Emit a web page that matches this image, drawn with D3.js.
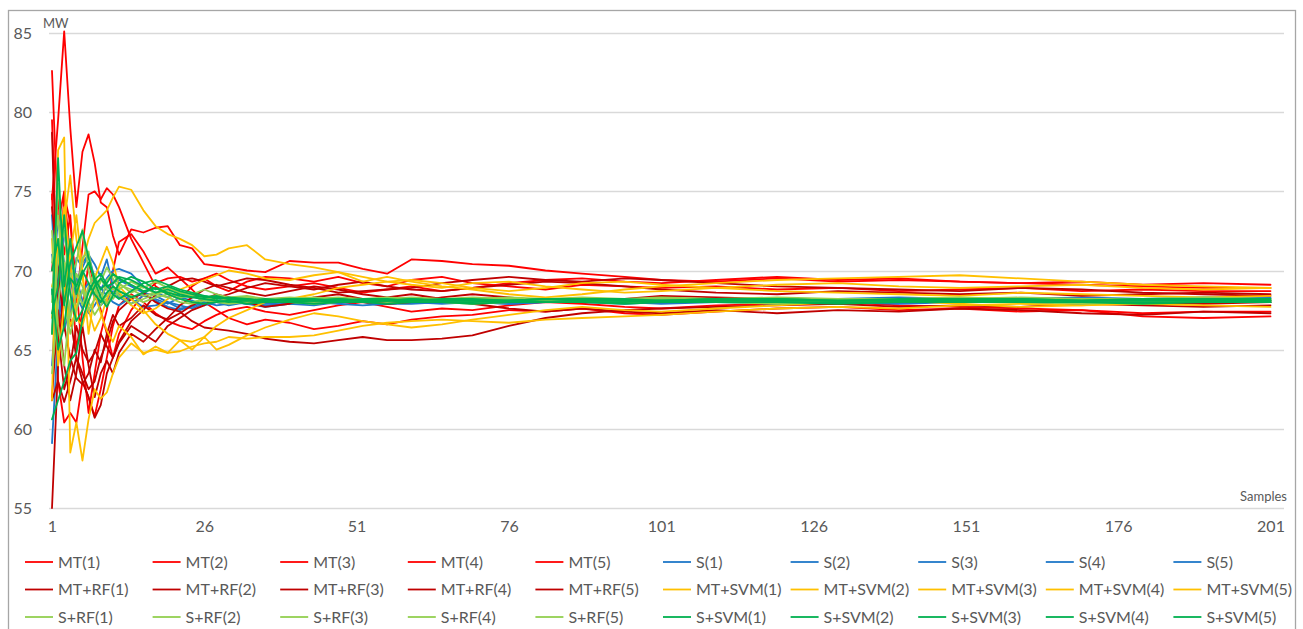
<!DOCTYPE html>
<html><head><meta charset="utf-8">
<script src="https://cdn.jsdelivr.net/npm/d3@7"></script>
<style>body{margin:0;background:#fff}svg{display:block}</style>
</head><body>
<svg id="c" width="1303" height="629"></svg>
<script>
const SAMPLES = [1,2,3,4,5,6,7,8,9,10,11,12,
  14,16,18,20,22,24,26,28,30,
  33,36,40,44,48,52,56,60,
  65,70,76,82,88,95,101,
  110,120,130,140,150,160,170,180,190,
  201];
const Y_TICKS = [55,60,65,70,75,80,85];
const X_TICKS = [1,26,51,76,101,126,151,176,201];

const MT1 = [74.5,79.5,85.1,79.0,74.0,77.5,78.6,76.8,74.3,74.0,72.2,71.0,
  72.6,72.4,72.7,72.8,71.6,71.4,70.4,70.3,70.2,
  70.0,69.9,70.6,70.5,70.5,70.1,69.8,70.7,
  70.6,70.4,70.3,70.0,69.8,69.6,69.4,
  69.3,69.5,69.3,69.4,69.3,69.2,69.3,69.1,69.2,
  69.1];
const MT2 = [82.6,73.0,75.0,70.8,65.0,67.5,70.5,69.0,67.5,66.0,64.5,66.0,
  67.5,68.5,69.2,69.5,69.6,69.3,69.5,69.0,68.7,
  69.3,69.6,69.5,69.3,69.6,69.2,69.0,69.4,
  69.6,69.2,69.0,68.8,69.1,69.0,68.9,
  69.0,68.8,68.9,68.7,68.8,68.9,68.7,68.8,68.7,
  68.7];
const MT3 = [79.5,68.0,74.8,73.0,69.0,64.5,61.0,63.5,66.0,67.5,70.0,71.8,
  72.3,71.2,69.8,70.2,69.5,68.8,68.0,67.5,67.0,
  66.6,66.9,66.7,66.3,66.5,66.8,66.6,66.9,
  67.1,67.2,67.5,67.4,67.6,67.3,67.2,
  67.4,67.6,67.7,67.5,67.6,67.4,67.5,67.1,67.0,
  67.1];
const MT4 = [74.8,63.0,60.4,61.0,60.4,63.0,62.0,60.8,62.5,64.5,66.5,67.8,
  68.5,68.0,67.3,66.8,66.5,66.3,66.8,67.2,67.5,
  67.7,67.4,67.2,67.5,67.8,68.0,67.7,67.4,
  67.6,67.5,67.8,68.0,67.9,67.7,67.6,
  67.8,67.9,68.0,67.8,67.7,67.6,67.5,67.3,67.4,
  67.4];
const MT5 = [70.0,74.5,71.0,73.5,68.0,71.5,74.8,75.0,74.5,75.2,74.8,74.0,
  72.0,70.5,69.0,68.5,68.2,69.0,69.5,69.8,69.4,
  69.0,68.8,69.0,69.2,68.9,68.6,68.8,69.0,
  68.7,68.9,69.2,69.4,69.5,69.3,69.2,
  69.4,69.6,69.4,69.5,69.3,69.2,69.1,69.0,68.9,
  68.9];

const S1 = [59.1,66.0,73.5,71.0,69.0,70.5,71.0,69.5,68.8,69.5,70.0,70.1,
  69.8,69.0,68.6,68.3,68.5,68.4,68.1,68.3,68.0,
  67.9,68.1,68.2,68.0,68.1,68.2,68.1,68.0,
  68.1,68.2,68.1,68.2,68.1,68.2,68.2,
  68.1,68.2,68.2,68.3,68.2,68.2,68.3,68.2,68.3,
  68.3];
const S2 = [68.5,73.3,70.5,67.0,70.8,70.2,71.0,70.4,69.6,70.7,69.0,68.5,
  68.2,67.7,67.8,68.0,67.6,67.7,68.0,67.8,67.9,
  68.0,67.8,67.9,68.0,67.9,67.8,67.9,68.0,
  67.9,68.0,67.9,68.0,68.0,67.9,68.0,
  68.0,67.9,68.0,68.0,68.1,68.0,68.0,68.1,68.0,
  68.0];
const S3 = [73.5,66.5,68.0,69.8,67.5,68.7,69.2,68.3,67.8,68.2,68.7,68.3,
  67.9,68.4,68.2,67.9,68.3,68.1,67.8,68.0,68.2,
  68.1,67.9,68.0,68.2,68.1,68.0,68.1,68.1,
  68.0,68.1,68.1,68.0,68.1,68.1,68.1,
  68.0,68.1,68.1,68.1,68.0,68.1,68.1,68.1,68.1,
  68.1];
const S4 = [64.0,70.0,72.5,69.3,68.4,67.6,68.8,69.3,68.9,68.4,68.0,67.8,
  68.3,68.5,68.1,67.7,67.5,67.8,68.2,68.0,67.8,
  68.0,68.1,67.9,67.8,68.0,68.1,67.9,67.9,
  68.0,68.0,67.9,68.0,68.0,68.0,67.9,
  68.0,68.0,68.0,67.9,68.0,68.0,67.9,68.0,68.0,
  68.0];
const S5 = [71.0,68.5,66.2,67.8,69.5,68.1,67.3,67.8,68.5,68.9,69.2,69.4,
  69.0,68.6,68.4,68.0,67.8,67.6,67.9,68.3,68.1,
  67.9,67.7,67.9,68.1,68.2,68.0,67.9,68.0,
  68.1,68.2,68.1,68.0,68.1,68.2,68.1,
  68.1,68.2,68.1,68.1,68.2,68.1,68.1,68.2,68.1,
  68.2];

const MTRF1 = [55.0,64.0,69.5,67.0,64.5,63.5,62.5,63.0,64.5,65.5,66.8,67.5,
  68.2,68.6,68.0,67.6,67.4,66.8,66.4,66.3,66.2,
  66.0,65.7,65.5,65.4,65.6,65.8,65.6,65.6,
  65.7,65.9,66.5,67.0,67.3,67.5,67.6,
  67.7,67.8,67.9,67.7,67.8,67.7,67.9,67.8,67.7,
  67.8];
const MTRF2 = [61.8,63.0,61.7,63.0,64.5,63.0,62.0,60.7,61.5,63.5,64.5,65.4,
  66.5,66.0,65.5,66.5,67.0,67.5,67.8,68.3,68.5,
  68.9,69.2,69.0,68.8,69.1,69.3,69.0,68.8,
  68.7,68.9,69.1,69.3,69.2,69.0,68.8,
  68.6,68.5,68.7,68.6,68.5,68.6,68.4,68.5,68.6,
  68.5];
const MTRF3 = [78.7,66.0,62.5,64.0,66.5,65.0,64.2,64.8,66.0,65.2,64.5,65.5,
  66.8,67.5,68.5,69.0,69.4,69.5,69.3,69.0,69.2,
  69.5,69.4,69.1,68.9,68.6,68.7,68.8,68.9,
  69.2,69.4,69.6,69.4,69.3,69.5,69.4,
  69.2,69.0,68.9,68.8,68.7,68.9,68.8,68.6,68.5,
  68.4];
const MTRF4 = [74.0,70.0,66.5,64.5,63.2,62.8,63.5,65.0,64.2,66.0,67.2,66.5,
  67.0,67.8,67.2,66.9,67.3,67.8,68.2,68.5,68.3,
  68.0,67.7,67.9,68.3,68.5,68.2,67.9,68.0,
  68.3,68.5,68.3,68.1,68.0,68.2,68.4,
  68.3,68.2,68.0,68.1,68.2,68.0,67.9,68.0,67.9,
  68.0];
const MTRF5 = [62.0,67.5,64.0,61.8,63.5,66.5,64.0,62.0,63.5,64.3,63.5,64.8,
  66.0,65.5,66.3,67.0,67.8,68.3,68.8,69.1,68.9,
  68.6,68.4,68.7,69.0,68.8,68.5,68.3,68.5,
  68.2,67.9,67.6,67.4,67.6,67.4,67.3,
  67.5,67.3,67.5,67.4,67.6,67.5,67.3,67.2,67.4,
  67.3];

const MTSVM1 = [67.0,72.0,69.0,66.5,67.5,70.5,72.0,73.0,73.4,73.8,74.6,75.3,
  75.1,73.8,72.8,72.3,72.0,71.6,70.9,71.0,71.4,
  71.6,70.7,70.4,70.2,69.9,69.3,69.6,69.3,
  69.0,68.8,68.5,68.3,68.5,68.8,69.0,
  69.2,69.4,69.5,69.6,69.7,69.5,69.3,69.1,69.0,
  68.9];
const MTSVM2 = [66.0,71.0,74.0,70.5,67.0,66.5,68.0,69.5,70.5,71.5,70.5,69.0,
  68.2,67.5,66.6,66.0,65.6,65.5,65.8,66.5,67.0,
  67.5,68.0,68.2,68.5,68.9,69.1,69.3,69.4,
  69.2,68.9,68.7,68.9,69.2,69.3,69.1,
  68.9,68.7,68.6,68.5,68.4,68.6,68.5,68.4,68.3,
  68.4];
const MTSVM3 = [61.8,77.6,78.4,58.5,60.4,58.0,60.6,62.5,61.9,62.3,63.5,64.5,
  65.4,64.8,65.0,64.8,64.9,65.2,65.4,65.5,65.8,
  65.7,65.8,65.8,65.9,66.2,66.5,66.7,66.8,
  66.9,66.8,66.7,66.9,67.0,67.1,67.2,
  67.4,67.6,67.7,67.6,67.8,67.9,67.8,68.0,68.1,
  68.1];
const MTSVM4 = [72.0,64.0,68.0,71.0,73.5,70.0,66.0,68.5,67.3,66.2,65.5,66.5,
  65.8,64.7,65.2,64.8,65.6,65.0,65.8,65.0,65.3,
  65.9,66.4,66.9,67.3,67.1,66.8,66.6,66.4,
  66.6,66.9,67.2,67.5,67.7,67.5,67.4,
  67.6,67.8,68.0,68.1,67.9,67.7,67.8,67.9,67.8,
  67.7];
const MTSVM5 = [69.0,70.5,73.0,76.0,72.0,69.5,67.5,66.2,67.0,68.2,69.0,68.6,
  67.8,67.3,67.6,68.2,68.8,69.1,69.4,69.7,70.0,
  69.8,69.5,69.4,69.7,69.9,69.6,69.3,69.1,
  68.9,69.2,69.3,69.0,68.8,68.6,68.7,
  68.9,69.1,69.2,69.0,68.9,69.0,69.1,68.9,68.8,
  68.9];

const SRF1 = [66.0,71.0,72.5,69.5,70.5,72.6,70.0,68.5,69.3,70.2,69.5,68.8,
  69.3,68.9,69.3,68.9,68.6,68.5,68.8,68.5,68.3,
  68.4,68.2,68.3,68.2,68.3,68.2,68.2,68.3,
  68.2,68.2,68.3,68.2,68.2,68.2,68.3,
  68.2,68.2,68.2,68.2,68.3,68.2,68.2,68.2,68.2,
  68.2];
const SRF2 = [63.5,68.0,70.5,67.0,68.5,70.8,71.2,69.0,68.0,69.4,69.8,69.2,
  68.6,69.0,68.5,68.7,68.3,68.4,68.2,68.3,68.1,
  68.2,68.1,68.2,68.1,68.1,68.2,68.1,68.1,
  68.2,68.1,68.1,68.1,68.2,68.1,68.1,
  68.1,68.2,68.1,68.1,68.1,68.1,68.2,68.1,68.1,
  68.1];
const SRF3 = [70.5,73.5,68.0,66.0,67.5,68.8,67.5,68.2,69.5,68.8,68.2,68.7,
  68.4,68.0,68.3,68.5,68.2,68.0,68.2,68.1,68.0,
  68.1,68.0,68.1,68.0,68.1,68.1,68.0,68.1,
  68.1,68.0,68.1,68.1,68.0,68.1,68.1,
  68.1,68.0,68.1,68.1,68.1,68.0,68.1,68.1,68.1,
  68.1];
const SRF4 = [68.0,75.5,70.0,71.5,69.0,67.8,69.0,69.8,68.6,67.9,68.5,69.1,
  68.8,68.4,68.6,68.9,68.6,68.4,68.3,68.4,68.2,
  68.3,68.2,68.2,68.3,68.2,68.2,68.3,68.2,
  68.2,68.3,68.2,68.2,68.3,68.2,68.2,
  68.2,68.3,68.2,68.2,68.2,68.3,68.2,68.2,68.3,
  68.2];
const SRF5 = [72.5,66.5,64.0,68.0,69.8,69.0,68.0,67.2,67.8,68.5,68.9,68.4,
  67.9,68.2,68.5,68.3,68.0,67.9,68.1,68.0,67.9,
  68.0,68.1,68.0,67.9,68.0,68.0,68.1,68.0,
  68.0,67.9,68.0,68.0,68.1,68.0,68.0,
  68.0,67.9,68.0,68.0,68.0,68.0,67.9,68.0,68.0,
  68.0];

const SSVM1 = [66.0,77.1,69.0,72.0,68.5,69.8,70.5,69.5,68.8,69.2,69.8,69.5,
  69.1,68.7,68.9,68.6,68.4,68.3,68.4,68.2,68.3,
  68.2,68.1,68.2,68.1,68.2,68.1,68.1,68.2,
  68.1,68.1,68.1,68.2,68.1,68.1,68.1,
  68.1,68.2,68.1,68.1,68.1,68.1,68.1,68.2,68.1,
  68.1];
const SSVM2 = [60.6,61.8,63.0,64.3,64.8,66.9,68.1,69.0,69.5,69.0,69.2,69.6,
  69.4,69.0,68.6,68.8,68.5,68.3,68.2,68.1,68.0,
  68.1,68.0,68.0,68.1,68.0,68.0,68.1,68.0,
  68.0,68.0,68.1,68.0,68.0,68.0,68.1,
  68.0,68.0,68.0,68.0,68.1,68.0,68.0,68.0,68.0,
  68.0];
const SSVM3 = [70.0,72.0,67.8,70.5,71.5,72.5,70.8,69.3,68.3,67.7,68.4,69.2,
  69.6,69.3,68.8,69.0,68.7,68.5,68.3,68.4,68.2,
  68.2,68.1,68.2,68.2,68.1,68.2,68.2,68.1,
  68.2,68.2,68.1,68.2,68.2,68.2,68.1,
  68.2,68.2,68.1,68.2,68.2,68.2,68.1,68.2,68.2,
  68.2];
const SSVM4 = [67.3,69.0,73.5,68.5,66.8,67.5,68.6,69.4,69.8,69.1,68.5,68.2,
  68.7,69.2,69.4,69.1,68.8,68.6,68.4,68.3,68.2,
  68.1,68.2,68.1,68.1,68.2,68.1,68.1,68.2,
  68.1,68.1,68.1,68.2,68.1,68.1,68.1,
  68.2,68.1,68.1,68.1,68.1,68.2,68.1,68.1,68.1,
  68.1];
const SSVM5 = [68.8,65.0,66.5,69.5,69.0,70.0,69.2,68.5,68.0,68.6,69.0,68.7,
  68.3,68.6,68.9,68.5,68.2,68.0,67.9,68.0,68.1,
  67.9,68.0,68.0,67.9,68.0,68.0,67.9,68.0,
  68.0,67.9,68.0,68.0,68.0,67.9,68.0,
  68.0,68.0,67.9,68.0,68.0,68.0,68.0,67.9,68.0,
  68.0];

const GROUP_NAMES = ["MT","S","MT+RF","MT+SVM","S+RF","S+SVM"];
const GROUP_COLORS = ["#FF0000","#1F78C8","#C00000","#FFC000","#92D050","#00B050"];
const GROUP_DATA = [
  [MT1,MT2,MT3,MT4,MT5],
  [S1,S2,S3,S4,S5],
  [MTRF1,MTRF2,MTRF3,MTRF4,MTRF5],
  [MTSVM1,MTSVM2,MTSVM3,MTSVM4,MTSVM5],
  [SRF1,SRF2,SRF3,SRF4,SRF5],
  [SSVM1,SSVM2,SSVM3,SSVM4,SSVM5]
];

const series = [];
GROUP_NAMES.forEach((g, gi) => {
  GROUP_DATA[gi].forEach((vals, k) => {
    series.push({name: g + "(" + (k+1) + ")", color: GROUP_COLORS[gi],
      points: vals.map((v, i) => ({s: SAMPLES[i], v}))});
  });
});

const svg = d3.select("#c");
const FONT = "Lato, 'Open Sans', sans-serif";
const TXT = "#595959";

svg.append("rect").attr("width",1303).attr("height",629).attr("fill","#fff");
// outer chart border
svg.append("rect").attr("x",8.5).attr("y",10.5).attr("width",1287).attr("height",640)
  .attr("fill","none").attr("stroke","#a6a6a6").attr("stroke-width",1.3);

const x = d3.scaleLinear().domain([1,201]).range([52,1270.5]);
const y = d3.scaleLinear().domain([55,85]).range([508,33]);
const gridX0 = 49, gridX1 = 1284;

// horizontal gridlines
svg.append("g").selectAll("line").data(Y_TICKS).join("line")
  .attr("x1",gridX0).attr("x2",gridX1)
  .attr("y1",d=>Math.round(y(d))+0.5).attr("y2",d=>Math.round(y(d))+0.5)
  .attr("stroke","#d9d9d9").attr("stroke-width",1.3);

// y axis labels
const yAxis = d3.axisLeft(y).tickValues(Y_TICKS).tickSize(0).tickPadding(0);
const gy = svg.append("g").attr("transform","translate(32,0)").call(yAxis);
gy.select(".domain").remove();
gy.selectAll("text").attr("font-family",FONT).attr("font-size",16).attr("fill",TXT).attr("dy","0.35em");

// x axis labels
const xAxis = d3.axisBottom(x).tickValues(X_TICKS).tickSize(0).tickPadding(0).tickFormat(d3.format("d"));
const gx = svg.append("g").attr("transform","translate(0,521)").call(xAxis);
gx.select(".domain").remove();
gx.selectAll("text").attr("font-family",FONT).attr("font-size",16).attr("fill",TXT).attr("dy","0.71em");

svg.append("text").attr("x",43).attr("y",28).text("MW")
  .attr("font-family",FONT).attr("font-size",13).attr("fill",TXT);
svg.append("text").attr("x",1287).attr("y",501).attr("text-anchor","end").text("Samples")
  .attr("font-family",FONT).attr("font-size",13).attr("fill",TXT);

// lines
const line = d3.line().x(d=>x(d.s)).y(d=>y(d.v));
svg.append("g").selectAll("path").data(series).join("path")
  .attr("d",d=>line(d.points)).attr("fill","none")
  .attr("stroke",d=>d.color).attr("stroke-width",1.8)
  .attr("stroke-linejoin","round").attr("stroke-linecap","round");

// legend
const lg = svg.append("g").selectAll("g").data(series).join("g")
  .attr("transform",(d,i)=>`translate(${25 + (i%10)*127.6},${562 + Math.floor(i/10)*27.5})`);
lg.append("line").attr("x1",0).attr("x2",28).attr("y1",0).attr("y2",0)
  .attr("stroke",d=>d.color).attr("stroke-width",1.8);
lg.append("text").attr("x",33).attr("dy","0.35em").text(d=>d.name)
  .attr("font-family",FONT).attr("font-size",16).attr("fill",TXT);
</script>
</body></html>
